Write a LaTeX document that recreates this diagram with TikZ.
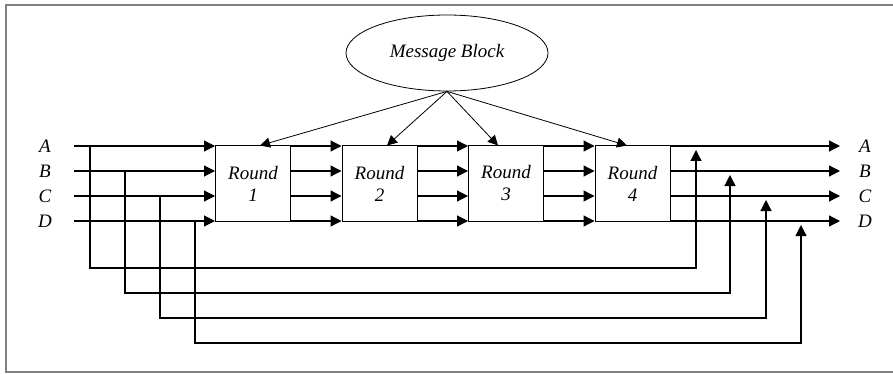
\documentclass[tikz,border=0pt]{standalone}
\usepackage{fontspec}
\setmainfont{Liberation Serif}
\usetikzlibrary{arrows.meta,shapes.geometric}

\begin{document}
\begin{tikzpicture}[x=1pt,y=-1pt,
  every node/.style={font=\fontsize{19}{22}\selectfont\itshape},
  round/.style={rectangle,draw,line width=1pt,minimum width=75pt,minimum height=75pt,align=center,inner sep=0pt},
  flow/.style={line width=1.2pt,-{Triangle[length=11pt,width=11pt]}},
  key/.style={line width=0.8pt,-{Triangle[length=10pt,width=10pt]}},
  frame/.style={draw=gray,line width=1.5pt}]
  \useasboundingbox (0,0) rectangle (893,374);
  \draw[frame] (893,5) -- (6,5) -- (6,372) -- (893,372);

  \node at (447,53) (msg) [ellipse,draw,line width=0.8pt,minimum width=202pt,minimum height=76pt] {Message Block};
  \node at (253,183.5) (r1) [round] {Round\\1};
  \node at (379.5,183.5) (r2) [round] {Round\\2};
  \node at (506,183.5) (r3) [round] {Round\\3};
  \node at (632.5,183.5) (r4) [round] {Round\\4};

  \draw[key] (msg.south) -- ([xshift=7pt]r1.north);
  \draw[key] (msg.south) -- ([xshift=7.5pt]r2.north);
  \draw[key] (msg.south) -- ([xshift=-8pt]r3.north);
  \draw[key] (msg.south) -- ([xshift=-5.5pt]r4.north);

  \foreach \row/\y/\tx/\bx/\by in {A/146/90/696/268,B/171/125/730/293,C/196/160/766/318,D/221/195/801/343}{
    \node at (45,\y) (l\row) {\row};
    \node at (865,\y) (o\row) {\row};
    \coordinate (in\row) at (74,\y);
    \coordinate (out\row) at (840,\y);
    \coordinate (tap\row) at (\tx,\y);
    \coordinate (back\row) at (\bx,\y+4);
    \draw[flow] (in\row) -- (r1.west |- in\row);
    \draw[flow] (r1.east |- in\row) -- (r2.west |- in\row);
    \draw[flow] (r2.east |- in\row) -- (r3.west |- in\row);
    \draw[flow] (r3.east |- in\row) -- (r4.west |- in\row);
    \draw[flow] (r4.east |- in\row) -- (out\row);
    \draw[flow] (tap\row) |- (\bx,\by) -- (back\row);
  }
\end{tikzpicture}
\end{document}
